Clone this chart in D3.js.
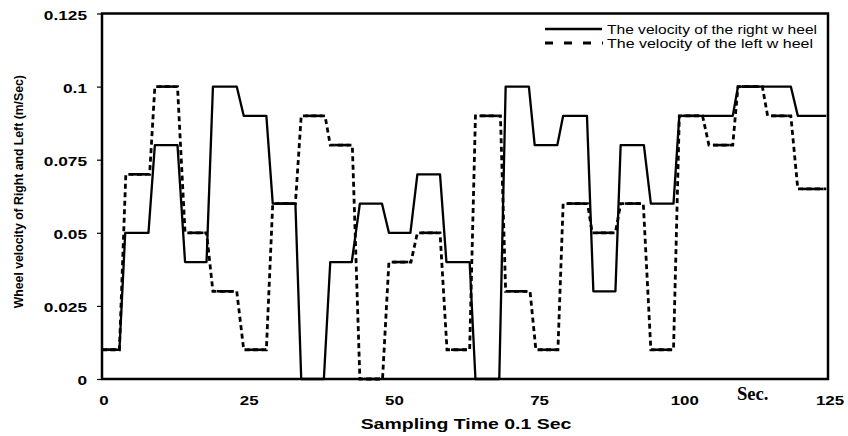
<!DOCTYPE html>
<html lang="en">
<head>
    <meta charset="UTF-8">
    <title>Wheel velocity</title>
    <script src="https://cdn.jsdelivr.net/npm/d3@7"></script>
    <style>
        body { margin: 0; background: #fff; }
        svg { display: block; }
    </style>
</head>
<body>
<script>
    // corner points (time in 0.1 s samples, velocity in m/s)
    const rightTime = [0, 3, 4, 8, 9.1, 13, 14.3, 18, 19.1, 23.2, 24.4, 28.3, 29.4, 33.3, 34.3, 38.2,
        39.3, 43, 44.4, 48.2, 49.4, 53.1, 54.3, 58.2, 59.3, 63.3, 64.3, 68.4, 69.5, 73.5, 74.5, 78.4,
        79.4, 83.5, 84.6, 88.4, 89.3, 93.3, 94.5, 98.4, 99.4, 108.6, 109.5, 118.6, 119.8, 124.7];
    const rightVel = [0.01, 0.01, 0.05, 0.05, 0.08, 0.08, 0.04, 0.04, 0.1, 0.1, 0.09, 0.09, 0.06, 0.06, 0, 0,
        0.04, 0.04, 0.06, 0.06, 0.05, 0.05, 0.07, 0.07, 0.04, 0.04, 0, 0, 0.1, 0.1, 0.08, 0.08,
        0.09, 0.09, 0.03, 0.03, 0.08, 0.08, 0.06, 0.06, 0.09, 0.09, 0.1, 0.1, 0.09, 0.09];

    const leftTime = [0, 3, 4.1, 8.2, 9.1, 13, 14.3, 18, 19.1, 23.2, 24.4, 28.3, 29.4, 33.3, 34.3, 38.4,
        39.3, 43.1, 44.4, 48.3, 49.4, 53.2, 54.3, 58.2, 59.4, 63.3, 64.3, 68.6, 69.5, 73.7, 74.7, 78.5,
        79.4, 83.6, 84.4, 88.4, 89.3, 93.2, 94.5, 98.4, 99.4, 103.4, 104.5, 108.6, 109.5, 113.7, 114.6,
        118.6, 119.8, 124.7];
    const leftVel = [0.01, 0.01, 0.07, 0.07, 0.1, 0.1, 0.05, 0.05, 0.03, 0.03, 0.01, 0.01, 0.06, 0.06, 0.09, 0.09,
        0.08, 0.08, 0, 0, 0.04, 0.04, 0.05, 0.05, 0.01, 0.01, 0.09, 0.09, 0.03, 0.03, 0.01, 0.01,
        0.06, 0.06, 0.05, 0.05, 0.06, 0.06, 0.01, 0.01, 0.09, 0.09, 0.08, 0.08, 0.1, 0.1, 0.09,
        0.09, 0.065, 0.065];

    const xTickValues = [0, 25, 50, 75, 100, 125];
    const yTickValues = [0, 0.025, 0.05, 0.075, 0.1, 0.125];
    const yTickLabels = ["0", "0.025", "0.05", "0.075", "0.1", "0.125"];
    const legendNames = ["The velocity of the right w heel", "The velocity of the left w heel"];

    let svg = d3.select('body').append('svg')
        .attr('width', 848)
        .attr('height', 436)
        .style('background-color', '#fff');

    let plot = {left: 102, right: 828, top: 13.5, bottom: 379};
    let font = "'Liberation Sans', Arial, sans-serif";

    let xScale = d3.scaleLinear().domain([0, 125]).range([plot.left, plot.right]);
    let yScale = d3.scaleLinear().domain([0, 0.125]).range([plot.bottom, plot.top]);

    // y axis (labels are horizontally stretched like the original picture)
    let yAxis = svg.append('g')
        .attr('transform', 'translate(' + plot.left + ',0)')
        .call(d3.axisLeft(yScale).tickValues(yTickValues).tickSize(5)
            .tickFormat(function (d, i) { return yTickLabels[i]; }));
    yAxis.select('.domain').remove();
    yAxis.selectAll('line').attr('stroke', '#000').attr('stroke-width', 1.2);
    yAxis.selectAll('text')
        .attr('x', -15 / 1.33)
        .attr('dy', '0.46em')
        .attr('transform', 'scale(1.33,1)')
        .style('font-family', font)
        .style('font-size', '13px')
        .style('font-weight', 'bold')
        .attr('fill', '#000');

    // x axis, no tick marks
    let xAxis = svg.append('g')
        .attr('transform', 'translate(0,' + plot.bottom + ')')
        .call(d3.axisBottom(xScale).tickValues(xTickValues).tickSize(0));
    xAxis.select('.domain').remove();
    xAxis.selectAll('text')
        .attr('y', 26)
        .attr('dy', 0)
        .attr('transform', 'translate(1.5,0) scale(1.3,1)')
        .style('font-family', font)
        .style('font-size', '13px')
        .style('font-weight', 'bold')
        .attr('fill', '#000');

    // plot frame
    svg.append('rect')
        .attr('x', plot.left)
        .attr('y', plot.top)
        .attr('width', plot.right - plot.left)
        .attr('height', plot.bottom - plot.top)
        .attr('fill', 'none')
        .attr('stroke', '#000')
        .attr('stroke-width', 2.5);

    let line = d3.line()
        .x(function (d) { return xScale(d.t); })
        .y(function (d) { return yScale(d.v); });

    let rightData = rightTime.map(function (t, i) { return {t: t, v: rightVel[i]}; });
    let leftData = leftTime.map(function (t, i) { return {t: t, v: leftVel[i]}; });

    // left wheel: dashed path, the flat stretches look almost solid in the original
    svg.append('path')
        .datum(leftData)
        .attr('d', line)
        .attr('fill', 'none')
        .attr('stroke', '#000')
        .attr('stroke-width', 2.8)
        .attr('stroke-dasharray', '5,3.5');

    let flats = [];
    for (let i = 1; i < leftData.length; i++) {
        if (leftData[i].v === leftData[i - 1].v) flats.push([leftData[i - 1], leftData[i]]);
    }
    svg.selectAll('line.flat')
        .data(flats)
        .enter()
        .append('line')
        .attr('class', 'flat')
        .attr('x1', function (d) { return xScale(d[0].t) + 4; })
        .attr('x2', function (d) { return xScale(d[1].t) - 3; })
        .attr('y1', function (d) { return yScale(d[0].v); })
        .attr('y2', function (d) { return yScale(d[1].v); })
        .attr('stroke', '#000')
        .attr('stroke-width', 2.6);

    svg.append('path')
        .datum(rightData)
        .attr('d', line)
        .attr('fill', 'none')
        .attr('stroke', '#000')
        .attr('stroke-width', 2.3)
        .attr('stroke-linejoin', 'round');

    // legend
    let legend = svg.append('g');
    legend.append('line')
        .attr('x1', 545).attr('x2', 602).attr('y1', 29).attr('y2', 29)
        .attr('stroke', '#000').attr('stroke-width', 2.5);
    legend.append('line')
        .attr('x1', 545).attr('x2', 603).attr('y1', 43).attr('y2', 43)
        .attr('stroke', '#000').attr('stroke-width', 3)
        .attr('stroke-dasharray', '8,11');
    legend.selectAll('text.leg')
        .data(legendNames)
        .enter()
        .append('text')
        .attr('class', 'leg')
        .attr('x', 607)
        .attr('y', function (d, i) { return 33.5 + i * 14; })
        .attr('textLength', function (d, i) { return i === 0 ? 210 : 206; })
        .attr('lengthAdjust', 'spacingAndGlyphs')
        .style('font-family', font)
        .style('font-size', '12.5px')
        .text(function (d) { return d; });

    // axis titles
    svg.append('text')
        .attr('transform', 'translate(466,428.5) scale(1.3,1)')
        .attr('text-anchor', 'middle')
        .style('font-family', font)
        .style('font-size', '15px')
        .style('font-weight', 'bold')
        .text('Sampling Time 0.1 Sec');

    svg.append('text')
        .attr('transform', 'translate(23,191.7) rotate(-90)')
        .attr('text-anchor', 'middle')
        .attr('textLength', 233)
        .attr('lengthAdjust', 'spacingAndGlyphs')
        .style('font-family', font)
        .style('font-size', '13px')
        .style('font-weight', 'bold')
        .text('Wheel velocity of Right and Left (m/Sec)');

    svg.append('text')
        .attr('x', 737)
        .attr('y', 399.5)
        .attr('textLength', 31.5)
        .attr('lengthAdjust', 'spacingAndGlyphs')
        .style('font-family', "'Liberation Serif', 'Times New Roman', serif")
        .style('font-size', '19px')
        .style('font-weight', 'bold')
        .text('Sec.');
</script>
</body>
</html>
